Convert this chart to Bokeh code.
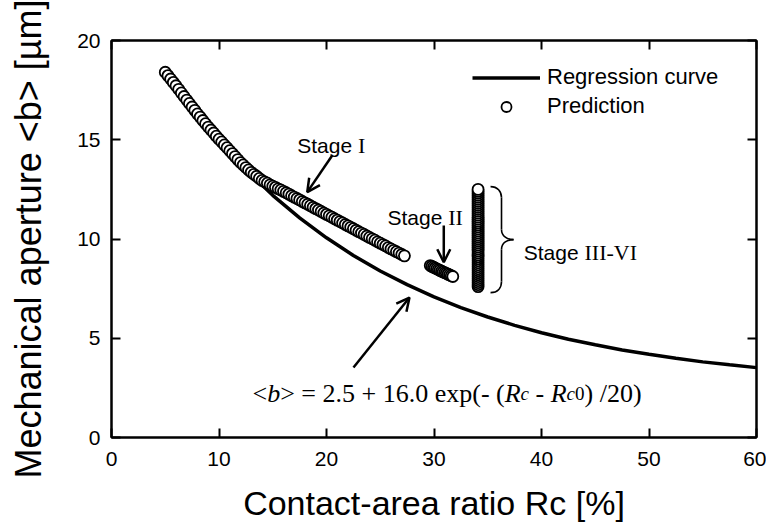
import math
from bokeh.plotting import figure
from bokeh.models import (Range1d, LinearAxis, FixedTicker, Label, Arrow, OpenHead,
                          Legend, LegendItem)
from bokeh.embed import file_html
from bokeh.resources import INLINE

# ---------------- data ----------------
reg_rc = [5.0, 7.5, 10.0, 12.5, 15.0, 17.5, 20.0, 22.5, 25.0, 27.5, 30.0, 32.5,
          35.0, 37.5, 40.0, 42.5, 45.0, 47.5, 50.0, 52.5, 55.0, 57.5, 60.0]
reg_b = [18.50, 16.62, 14.96, 13.50, 12.20, 11.06, 10.06, 9.17, 8.39, 7.70, 7.08, 6.54,
         6.07, 5.65, 5.28, 4.95, 4.67, 4.41, 4.19, 3.99, 3.81, 3.66, 3.52]

stage1_rc = [5.00, 5.25, 5.50, 5.75, 6.00, 6.25, 6.50, 6.75, 7.00, 7.25, 7.50, 7.75,
             8.00, 8.25, 8.50, 8.75, 9.00, 9.25, 9.50, 9.75, 10.00, 10.25, 10.50, 10.75,
             11.00, 11.25, 11.50, 11.75, 12.00, 12.25, 12.50, 12.75, 13.00, 13.25, 13.50, 13.75,
             14.00, 14.25, 14.50, 14.75, 15.00, 15.25, 15.50, 15.75, 16.00, 16.25, 16.50, 16.75,
             17.00, 17.25, 17.50, 17.75, 18.00, 18.25, 18.50, 18.75, 19.00, 19.25, 19.50, 19.75,
             20.00, 20.25, 20.50, 20.75, 21.00, 21.25, 21.50, 21.75, 22.00, 22.25, 22.50, 22.75,
             23.00, 23.25, 23.50, 23.75, 24.00, 24.25, 24.50, 24.75, 25.00, 25.25, 25.50, 25.75,
             26.00, 26.25, 26.50, 26.75, 27.00, 27.25]
stage1_b = [18.40, 18.23, 18.06, 17.89, 17.72, 17.54, 17.36, 17.18, 17.00, 16.83, 16.65, 16.48,
            16.30, 16.14, 15.97, 15.81, 15.64, 15.49, 15.34, 15.18, 15.03, 14.89, 14.74, 14.60,
            14.45, 14.30, 14.15, 14.00, 13.85, 13.73, 13.60, 13.48, 13.36, 13.26, 13.16, 13.05,
            12.95, 12.88, 12.81, 12.73, 12.66, 12.60, 12.53, 12.47, 12.40, 12.33, 12.26, 12.18,
            12.11, 12.04, 11.97, 11.89, 11.82, 11.75, 11.68, 11.60, 11.53, 11.46, 11.39, 11.31,
            11.24, 11.17, 11.10, 11.02, 10.95, 10.88, 10.81, 10.73, 10.66, 10.59, 10.52, 10.44,
            10.37, 10.30, 10.23, 10.15, 10.08, 10.01, 9.94, 9.86, 9.79, 9.72, 9.65, 9.57,
            9.50, 9.43, 9.36, 9.29, 9.22, 9.15]

stage2_rc = [29.65, 29.80, 29.95, 30.10, 30.25, 30.40, 30.55, 30.70, 30.85, 31.00,
             31.15, 31.30, 31.45, 31.60, 31.75]
stage2_b = [8.66, 8.62, 8.58, 8.54, 8.50, 8.46, 8.42, 8.38, 8.34, 8.30,
            8.27, 8.23, 8.19, 8.15, 8.11]

stage3_b = [7.60, 7.70, 7.80, 7.90, 8.00, 8.10, 8.20, 8.30, 8.40, 8.50,
            8.60, 8.70, 8.80, 8.90, 9.00, 9.10, 9.20, 9.30, 9.40, 9.50,
            9.60, 9.70, 9.80, 9.90, 10.00, 10.10, 10.20, 10.30, 10.40, 10.50,
            10.60, 10.70, 10.80, 10.90, 11.00, 11.10, 11.20, 11.30, 11.40, 11.50,
            11.60, 11.70, 11.80, 11.90, 12.00, 12.10, 12.20, 12.30, 12.40, 12.50]
stage3_rc = [34.1] * len(stage3_b)

x_ticks = [0, 10, 20, 30, 40, 50, 60]
y_ticks = [0, 5, 10, 15, 20]

x_title = "Contact-area ratio Rc [%]"
y_title = "Mechanical aperture <b> [µm]"

# ---------------- font metrics for composing mixed-style text ----------------
SANS = "Liberation Sans"
SERIF = "Liberation Serif"
ARIAL_W = {'S': 667, 't': 278, 'a': 556, 'g': 556, 'e': 556, ' ': 278}
TIMES_W = {'I': 333, 'V': 722, '-': 333, ' ': 250, '<': 564, '>': 564, '=': 564, '.': 250,
           '+': 564, 'e': 444, 'x': 500, 'p': 500, '(': 333, ')': 333, '/': 278,
           'b': 500, 'R': 611, 'c': 444}


def width(s, font, size):
    table = ARIAL_W if font == SANS else TIMES_W
    return sum(table.get(ch, 500 if font == SERIF else 556) for ch in s) * size / 1000.0


def compose(p, x, y, pieces):
    """pieces: list of (text, font, size, style). Places them one after another."""
    pos = 0.0
    for text, font, size, style in pieces:
        lead = len(text) - len(text.lstrip(" "))
        pos += width(" " * lead, font, size)
        body = text.strip(" ")
        if body:
            p.add_layout(Label(x=x, y=y, x_offset=pos, text=body,
                               text_font=font, text_font_size=f"{size}px",
                               text_font_style=style, text_color="black",
                               text_align="left", text_baseline="alphabetic"))
        pos += width(text.lstrip(" "), font, size)


# ---------------- figure ----------------
p = figure(width=766, height=530, x_range=Range1d(0, 60), y_range=Range1d(0, 20),
           output_backend="svg", toolbar_location=None,
           min_border_left=111, min_border_right=10, min_border_top=40, min_border_bottom=93)
p.grid.visible = False
p.background_fill_color = "white"
p.border_fill_color = "white"
p.outline_line_color = "black"
p.outline_line_width = 2


def style_axis(ax, ticks, labels=True):
    ax.ticker = FixedTicker(ticks=ticks)
    ax.axis_line_color = "black"
    ax.axis_line_width = 2
    ax.major_tick_line_color = "black"
    ax.major_tick_line_width = 2
    ax.major_tick_in = 9
    ax.major_tick_out = 0
    ax.minor_tick_line_color = None
    if labels:
        ax.major_label_text_font = SANS
        ax.major_label_text_font_size = "21px"
        ax.major_label_text_color = "black"
    else:
        ax.major_label_overrides = {t: "" for t in ticks}
        ax.major_label_standoff = 0
        ax.major_label_text_font_size = "1px"


xa = p.xaxis[0]
style_axis(xa, x_ticks)
xa.major_label_standoff = 14
xa.axis_label = x_title
xa.axis_label_text_font = SANS
xa.axis_label_text_font_size = "34px"
xa.axis_label_text_font_style = "normal"
xa.axis_label_text_color = "black"
xa.axis_label_standoff = 15

ya = p.yaxis[0]
style_axis(ya, y_ticks)
ya.major_label_standoff = 11
ya.axis_label = y_title
ya.axis_label_text_font = SANS
ya.axis_label_text_font_size = "36px"
ya.axis_label_text_font_style = "normal"
ya.axis_label_text_color = "black"
ya.axis_label_standoff = 25

top_ax = LinearAxis()
style_axis(top_ax, x_ticks, labels=False)
p.add_layout(top_ax, "above")
right_ax = LinearAxis()
style_axis(right_ax, y_ticks, labels=False)
p.add_layout(right_ax, "right")

# ---------------- data glyphs ----------------
r_line = p.line(reg_rc, reg_b, line_color="black", line_width=3.5)
r_s1 = p.scatter(stage1_rc, stage1_b, marker="circle", size=11, fill_color="white",
                 line_color="black", line_width=1.8)
p.scatter(stage2_rc, stage2_b, marker="circle", size=11, fill_color="white",
          line_color="black", line_width=1.8)
p.scatter(stage3_rc, stage3_b, marker="circle", size=11, fill_color="white",
          line_color="black", line_width=1.8)

# ---------------- legend ----------------
legend = Legend(items=[LegendItem(label="Regression curve", renderers=[r_line]),
                       LegendItem(label="Prediction", renderers=[r_s1])],
                location=(361, 318), glyph_width=68, glyph_height=25, label_height=25,
                spacing=3, padding=0, margin=0, label_standoff=7,
                border_line_color=None, background_fill_alpha=0,
                label_text_font=SANS, label_text_font_size="22px", label_text_color="black")
p.add_layout(legend)

# ---------------- annotations ----------------
compose(p, 17.28, 14.71, [("Stage ", SANS, 21, "normal"), ("I", SERIF, 22, "normal")])
compose(p, 25.67, 11.08, [("Stage ", SANS, 21, "normal"), ("II", SERIF, 22, "normal")])
compose(p, 38.35, 9.34, [("Stage ", SANS, 21, "normal"), ("III-VI", SERIF, 22, "normal")])

compose(p, 13.12, 2.2, [("<", SERIF, 26, "normal"), ("b", SERIF, 26, "italic"),
                        ("> = 2.5 + 16.0 exp(- (", SERIF, 26, "normal"),
                        ("R", SERIF, 26, "italic"), ("c", SERIF, 19, "italic"),
                        (" - ", SERIF, 26, "normal"),
                        ("R", SERIF, 26, "italic"), ("c", SERIF, 19, "italic"),
                        ("0", SERIF, 19, "normal"),
                        (") /20)", SERIF, 26, "normal")])

for xs, ys, xe, ye in [(20.53, 14.21, 18.21, 12.36),
                       (30.91, 10.68, 30.91, 8.83),
                       (22.51, 3.53, 27.72, 7.05)]:
    p.add_layout(Arrow(end=OpenHead(size=13, line_width=2.5, line_color="black"),
                       x_start=xs, y_start=ys, x_end=xe, y_end=ye,
                       line_width=2.5, line_color="black"))

# curly brace for Stage III-VI
bx0, bx1, bx2 = 35.26, 36.28, 37.40
p.bezier(x0=[bx0, bx1, bx2, bx1], y0=[12.64, 10.48, 9.97, 7.86],
         x1=[bx1, bx2, bx1, bx0], y1=[12.09, 9.97, 9.47, 7.30],
         cx0=[35.9, bx1, 36.85, bx1], cy0=[12.64, 10.13, 9.97, 7.51],
         cx1=[bx1, 36.85, bx1, 35.9], cy1=[12.40, 9.97, 9.82, 7.30],
         line_color="black", line_width=1.6)
p.segment(x0=[bx1, bx1], y0=[12.09, 9.47], x1=[bx1, bx1], y1=[10.48, 7.86],
          line_color="black", line_width=1.6)

open("out.html", "w").write(file_html(p, INLINE))
